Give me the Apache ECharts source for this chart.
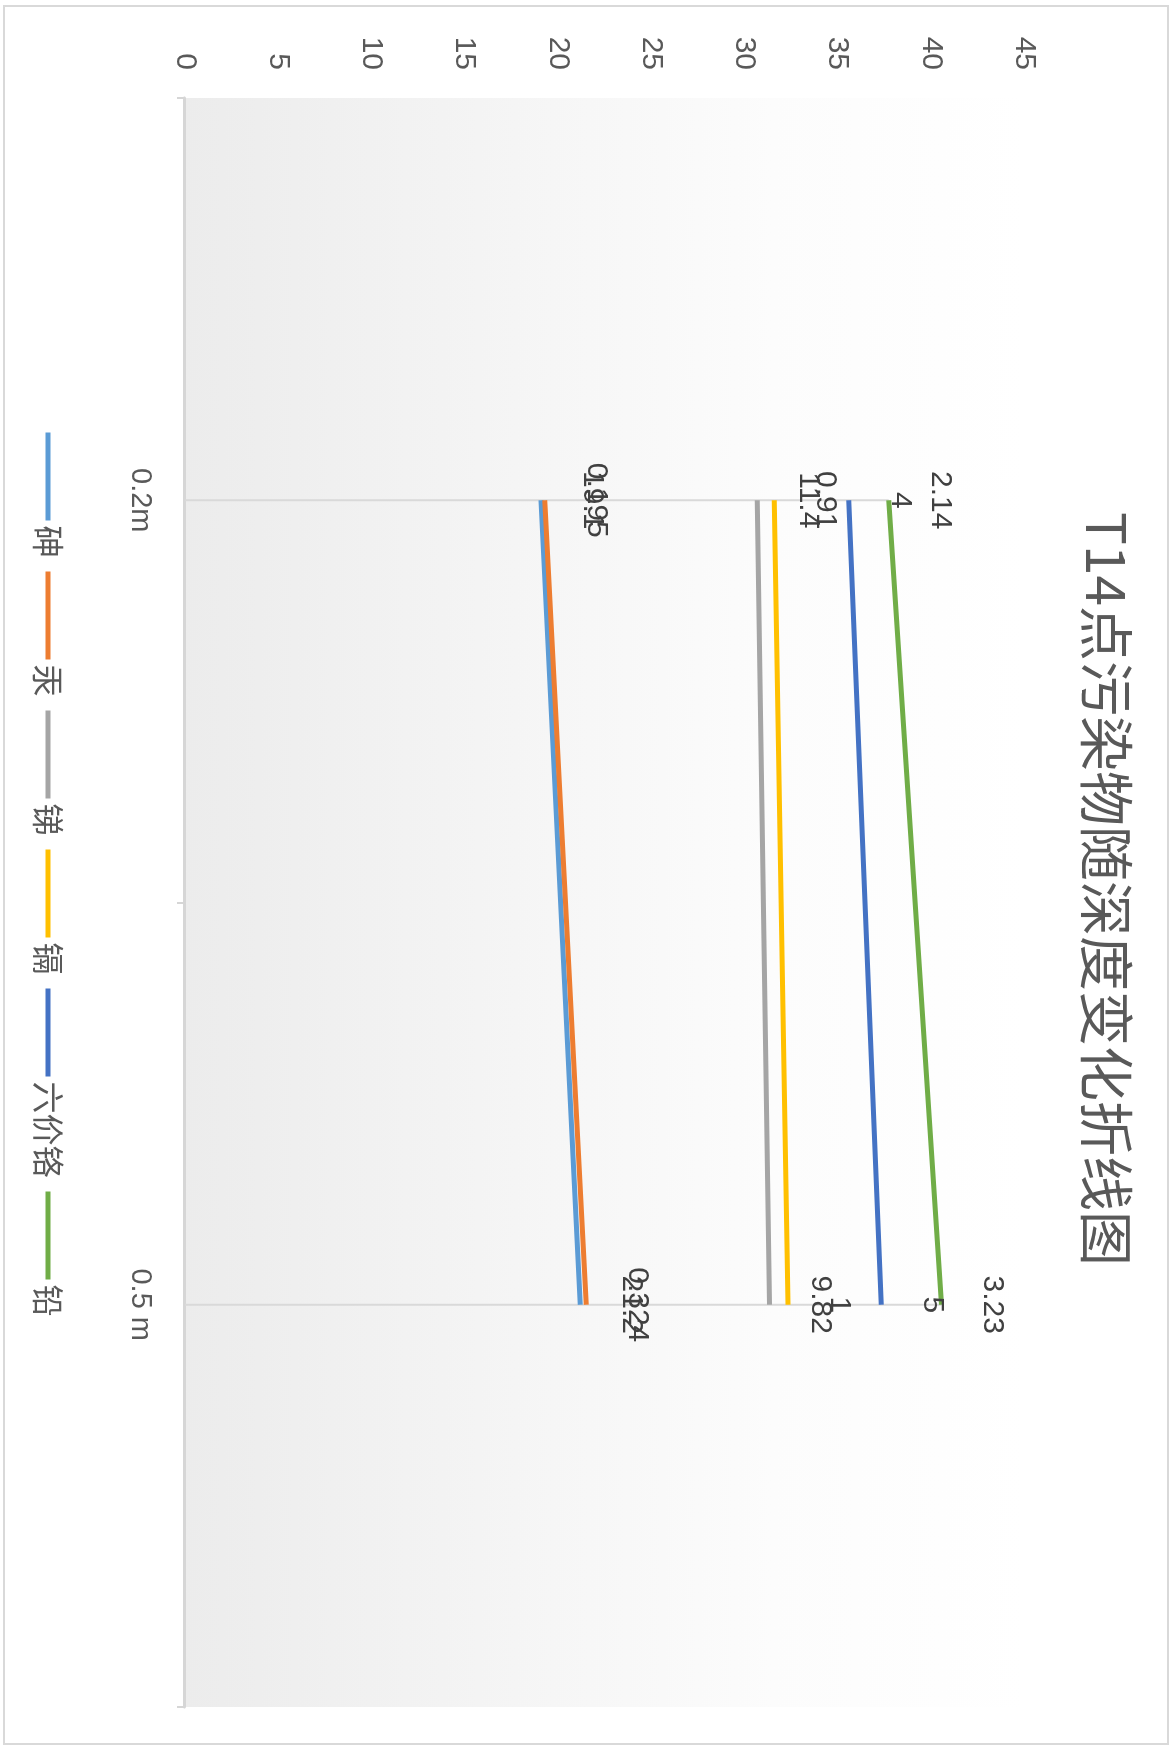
<!DOCTYPE html>
<html>
<head>
<meta charset="utf-8">
<script src="https://cdn.jsdelivr.net/npm/echarts@6/dist/echarts.min.js"></script>
<style>
html,body{margin:0;padding:0;background:#fff;width:1171px;height:1749px;overflow:hidden;}
#wrap{position:absolute;left:0;top:0;width:1749px;height:1171px;transform-origin:0 0;transform:translate(1171px,0) rotate(90deg);background:#fff;}
#frame{position:absolute;left:3px;top:5px;width:1162px;height:1736px;border:2px solid #d9d9d9;pointer-events:none;}
</style>
</head>
<body>
<div id="wrap"></div>
<div id="frame"></div>
<script>
// Data
var titleText = 'T14点污染物随深度变化折线图';
var categories = ['0.2m', '0.5 m'];
var seriesNames = ['砷', '汞', '锑', '镉', '六价铬', '铅'];
var arsenic = [19.1, 21.2];      // 砷
var mercury = [0.195, 0.324];    // 汞
var antimony = [11.4, 9.82];     // 锑
var cadmium = [0.91, 1];         // 镉
var chromium6 = [4, 5];          // 六价铬
var lead = [2.14, 3.23];         // 铅
var valueTicks = {min: 0, max: 45, interval: 5};

var colors = ['#5B9BD5', '#ED7D31', '#A5A5A5', '#FFC000', '#4472C4', '#70AD47'];
var allData = [arsenic, mercury, antimony, cadmium, chromium6, lead];
var totals = categories.map(function (c, i) {
  return allData.reduce(function (s, arr) { return s + arr[i]; }, 0);
});

var chart = echarts.init(document.getElementById('wrap'), null, {renderer: 'canvas'});
var series = seriesNames.map(function (name, k) {
  return {
    name: name,
    type: 'line',
    stack: 'total',
    data: allData[k],
    symbol: 'circle',
    symbolSize: 0.1,
    itemStyle: {color: colors[k]},
    lineStyle: {color: colors[k], width: 5},
    z: 3,
    label: {
      show: true,
      position: 'top',
      distance: 36,
      color: '#404040',
      fontSize: 30,
      fontFamily: 'Liberation Sans'
    }
  };
});
// drop lines
series.push({
  name: 'drop',
  type: 'bar',
  data: totals,
  barWidth: 2,
  itemStyle: {color: '#d9d9d9'},
  silent: true,
  z: 1
});

chart.setOption({
  animation: false,
  color: colors,
  title: {
    text: titleText,
    left: 507,
    top: 32,
    textStyle: {color: '#595959', fontSize: 55, fontWeight: 'normal', fontFamily: 'Noto Sans CJK SC'}
  },
  legend: {
    data: seriesNames,
    left: 'center',
    top: 1102,
    icon: 'rect',
    itemWidth: 88,
    itemHeight: 5,
    itemGap: 14,
    textStyle: {color: '#595959', fontSize: 32, fontFamily: 'Noto Sans CJK SC'}
  },
  grid: {
    left: 98,
    right: 42,
    top: 147,
    bottom: 185,
    show: true,
    borderWidth: 0,
    backgroundColor: new echarts.graphic.LinearGradient(0, 0, 0, 1, [
      {offset: 0, color: '#ffffff'},
      {offset: 0.3, color: '#fcfcfc'},
      {offset: 1, color: '#ececec'}
    ])
  },
  xAxis: {
    type: 'category',
    data: categories,
    boundaryGap: true,
    axisLine: {lineStyle: {color: '#d6d6d6', width: 3}},
    axisTick: {show: true, length: 8, lineStyle: {color: '#d6d6d6', width: 2}},
    axisLabel: {color: '#595959', fontSize: 29, margin: 30, fontFamily: 'Liberation Sans'}
  },
  yAxis: {
    type: 'value',
    min: valueTicks.min,
    max: valueTicks.max,
    interval: valueTicks.interval,
    axisLine: {show: false},
    axisTick: {show: false},
    splitLine: {show: false},
    axisLabel: {color: '#595959', fontSize: 30, margin: 28, fontFamily: 'Liberation Sans'}
  },
  series: series
});
</script>
</body>
</html>
